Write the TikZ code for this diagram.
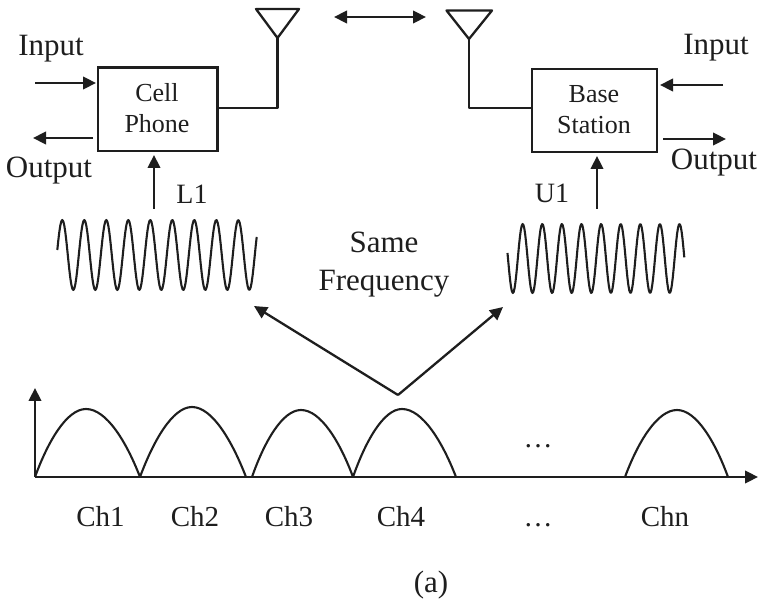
\documentclass[tikz,border=0pt]{standalone}
\usepackage{fontspec}
\setmainfont{Liberation Serif}
\usetikzlibrary{arrows.meta}
\definecolor{ink}{HTML}{1E1E1E}
\tikzset{
  ln/.style={draw=ink,line width=2.3pt,line join=round},
  arr/.style={ln,-{Triangle[length=13pt,width=12.5pt]}},
  dbl/.style={ln,{Triangle[length=13pt,width=12.5pt]}-{Triangle[length=13pt,width=12.5pt]}},
  wave/.style={draw=ink,line width=2.1pt,line join=round},
  lbl/.style={text=ink,inner sep=0pt,anchor=base,font=\fontsize{31}{32}\selectfont},
  lblm/.style={text=ink,inner sep=0pt,anchor=base,font=\fontsize{29}{30}\selectfont},
  lblb/.style={text=ink,inner sep=0pt,anchor=base,font=\fontsize{26}{30}\selectfont},
  boxn/.style={draw=ink,line width=2.3pt,inner sep=0pt}
}
\begin{document}
\begin{tikzpicture}[x=1pt,y=-1pt]
\useasboundingbox (0,0) rectangle (774,601);
% boxes
\node[boxn,minimum width=119.5pt,minimum height=83.5pt] (cell) at (157.75,109.25) {};
\node[boxn,minimum width=125pt,minimum height=83pt] (base) at (594.5,110.5) {};
% antennas
\coordinate (antL) at (277.5,38);
\coordinate (antLa) at (256,9);
\coordinate (antLb) at (299,9);
\coordinate (antR) at (469,39);
\coordinate (antRa) at (446.5,10.5);
\coordinate (antRb) at (492,10.5);
\coordinate (jL) at (277.5,108);
\coordinate (jR) at (469,108);
\draw[ln] (antLa) -- (antLb) -- (antL) -- cycle;
\draw[ln] (antRa) -- (antRb) -- (antR) -- cycle;
\draw[ln] (antL) -- (jL) -- (cell.east |- jL);
\draw[ln] (antR) -- (jR) -- (base.west |- jR);
% radio link
\coordinate (linkL) at (334,17);
\coordinate (linkR) at (426,17);
\draw[dbl] (linkL) -- (linkR);
% left arrows
\coordinate (inLs) at (35,83);
\coordinate (inLe) at (96,83);
\coordinate (outLs) at (93,138);
\coordinate (outLe) at (33,138);
\coordinate (l1s) at (154,209);
\coordinate (l1e) at (154,155);
\draw[arr] (inLs) -- (inLe);
\draw[arr] (outLs) -- (outLe);
\draw[arr] (l1s) -- (l1e);
% right arrows
\coordinate (inRs) at (723,85);
\coordinate (inRe) at (660,85);
\coordinate (outRs) at (663,139);
\coordinate (outRe) at (726,139);
\coordinate (u1s) at (597,209);
\coordinate (u1e) at (597,156);
\draw[arr] (inRs) -- (inRe);
\draw[arr] (outRs) -- (outRe);
\draw[arr] (u1s) -- (u1e);
% waves
\draw[wave] plot[domain=57.3:256.7,samples=200,variable=\x] (\x,{255-35*cos(16.3636*(\x-62.3))});
\draw[wave] plot[domain=507.5:684.3,samples=200,variable=\x] (\x,{258.5-34.5*cos(18.367*(\x-522.7))});
% same frequency arrows
\coordinate (apex) at (398,395);
\coordinate (toL) at (254,306);
\coordinate (toR) at (503,307);
\draw[arr] (apex) -- (toL);
\draw[arr] (apex) -- (toR);
% axes
\coordinate (orig) at (35,477);
\coordinate (yend) at (35,388);
\coordinate (xend) at (758,477);
\draw[arr] (orig) -- (yend);
\draw[arr] (orig) -- (xend);
% humps
\foreach \a/\p/\t/\b in {35/86/409/140,140/192/407/246,252/301/410/353,353/402/409/456,625/677/410/728}{
  \draw[wave] (\a,477) .. controls ({\a+0.25*(\p-\a)},442) and ({\p-0.38*(\p-\a)},\t) .. (\p,\t)
    .. controls ({\p+0.38*(\b-\p)},\t) and ({\b-0.25*(\b-\p)},442) .. (\b,477);
}
% labels
\node[lbl] (t1) at (51,56) {Input};
\node[lbl] (t2) at (49,178) {Output};
\node[lblb] (t3) at (157,102) {Cell};
\node[lblb] (t4) at (157,133) {Phone};
\node[lblb,font=\fontsize{28}{30}\selectfont] (t5) at (192,204) {L1};
\node[lbl] (t6) at (384,253) {Same};
\node[lbl] (t7) at (384,291) {Frequency};
\node[lblb,font=\fontsize{28}{30}\selectfont] (t8) at (552,203) {U1};
\node[lbl] (t9) at (716,55) {Input};
\node[lbl] (t10) at (714,170) {Output};
\node[lblb] (t11) at (594,102.5) {Base};
\node[lblb] (t12) at (594,133.5) {Station};
\node[lblm] (c1) at (100.5,526) {Ch1};
\node[lblm] (c2) at (195,526) {Ch2};
\node[lblm] (c3) at (289,526) {Ch3};
\node[lblm] (c4) at (401,526) {Ch4};
\node[lblm] (c5) at (538,526) {…};
\node[lblm] (c6) at (665,526) {Chn};
\node[lblm] (d1) at (538,447) {…};
\node[lbl] (cap) at (431,592) {(a)};
\end{tikzpicture}
\end{document}
